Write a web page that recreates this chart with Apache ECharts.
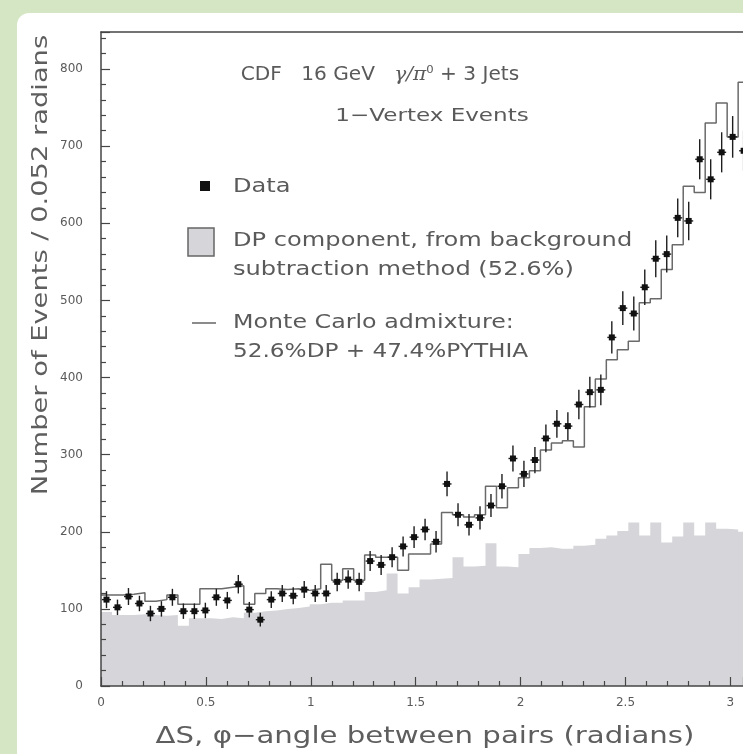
<!DOCTYPE html>
<html>
<head>
<meta charset="utf-8">
<script src="https://cdn.jsdelivr.net/npm/echarts@6/dist/echarts.min.js"></script>
<style>
  html, body { margin: 0; padding: 0; background: #d4e6c3; }
  #chart { width: 743px; height: 754px; }
</style>
</head>
<body>
<div id="chart"></div>
<script>
// 60 bins of width pi/60 (0.052 rad); the view ends at 3.06 rad, so bins 0..58 are listed
const BIN_WIDTH = Math.PI / 60;
const X_VIEW_MAX = 3.06;

// Observed events per bin
const dataCounts = [
  112, 102, 116, 107, 94, 100, 115, 97, 97, 98,
  115, 111, 132, 99, 86, 112, 120, 117, 125, 120,
  120, 135, 138, 135, 162, 157, 167, 181, 193, 203,
  187, 262, 222, 209, 218, 234, 259, 295, 275, 293,
  321, 340, 337, 365, 381, 384, 452, 490, 483, 517,
  554, 560, 607, 603, 683, 657, 692, 712, 694
];
// Statistical uncertainty per bin
const dataErrors = [
  11, 10, 11, 10, 10, 10, 11, 10, 10, 10,
  11, 11, 12, 10, 9, 11, 11, 11, 11, 11,
  11, 12, 12, 12, 13, 13, 13, 13, 14, 14,
  14, 16, 15, 14, 15, 15, 16, 17, 17, 17,
  18, 18, 18, 19, 20, 20, 21, 22, 22, 23,
  24, 24, 25, 25, 26, 26, 26, 27, 26
];
// Monte Carlo admixture (52.6% DP + 47.4% PYTHIA)
const mcCounts = [
  118, 118, 119, 121, 110, 112, 118, 106, 106, 126,
  126, 128, 130, 106, 120, 126, 125, 126, 124, 126,
  158, 137, 152, 137, 170, 167, 167, 150, 171, 171,
  184, 225, 222, 219, 222, 259, 231, 257, 270, 279,
  306, 315, 318, 310, 362, 398, 423, 436, 447, 497,
  502, 540, 572, 648, 640, 730, 756, 712, 783
];
// DP component from background subtraction
const dpCounts = [
  96, 92, 92, 93, 92, 91, 92, 78, 88, 88,
  87, 89, 88, 95, 97, 98, 100, 101, 103, 106,
  108, 108, 111, 111, 122, 124, 146, 120, 128, 138,
  139, 140, 167, 155, 156, 185, 155, 154, 171, 179,
  180, 178, 178, 182, 183, 191, 195, 201, 212, 195,
  212, 186, 194, 212, 195, 212, 204, 203, 200
];

const xTickLabels = ['0', '0.5', '1', '1.5', '2', '2.5', '3'];
const yTickLabels = ['0', '100', '200', '300', '400', '500', '600', '700', '800'];

const TEXT_FONT = '"DejaVu Sans", sans-serif';
const TEXT_COLOR = '#5a5a5a';
const AXIS_COLOR = '#454545';

// Step outline: one point at each bin's left edge, closed at the last right edge
function stepPoints(values) {
  const pts = values.map((v, i) => [i * BIN_WIDTH, v]);
  pts.push([values.length * BIN_WIDTH, values[values.length - 1]]);
  return pts;
}
const dataPoints = dataCounts.map((v, i) => [(i + 0.5) * BIN_WIDTH, v, dataErrors[i]]);

// Tick label lookup: only exact steps get a label
function tickLabel(list, step) {
  return v => {
    const k = Math.round(v / step);
    return Math.abs(v - k * step) < 1e-6 && list[k] !== undefined ? list[k] : '';
  };
}

// Wide-set annotation text (the plot's lettering is an extended face)
function label(text, x, y, size, stretch, align) {
  return {
    type: 'text', z: 50, x: x, y: y, scaleX: stretch,
    style: { text: text, font: size + 'px ' + TEXT_FONT, fill: TEXT_COLOR,
             align: align || 'left', verticalAlign: 'middle' }
  };
}

const chart = echarts.init(document.getElementById('chart'), null, { renderer: 'canvas' });

chart.setOption({
  animation: false,
  backgroundColor: 'transparent',
  grid: { left: 101, top: 32, right: 0, bottom: 68, show: false },
  xAxis: [
    {
      type: 'value', min: 0, max: X_VIEW_MAX, interval: 0.5, z: 5,
      axisLine: { lineStyle: { color: AXIS_COLOR, width: 1.5 } },
      axisTick: { inside: true, length: 9, lineStyle: { color: AXIS_COLOR, width: 1.2 } },
      minorTick: { show: true, splitNumber: 5, length: 5, lineStyle: { color: AXIS_COLOR, width: 1.2 } },
      splitLine: { show: false },
      axisLabel: {
        margin: 11, showMaxLabel: false, color: '#5a5a5a', fontSize: 12, fontFamily: TEXT_FONT,
        formatter: tickLabel(xTickLabels, 0.5)
      }
    },
    {
      // upper frame edge
      type: 'value', position: 'top', min: 0, max: X_VIEW_MAX, z: 5,
      axisLine: { show: true, lineStyle: { color: AXIS_COLOR, width: 1.5 } },
      axisTick: { show: false }, axisLabel: { show: false }, splitLine: { show: false }
    }
  ],
  yAxis: {
    type: 'value', min: 0, max: 848, interval: 100, z: 5,
    axisLine: { show: true, lineStyle: { color: AXIS_COLOR, width: 1.5 } },
    axisTick: { show: true, inside: true, length: 9, lineStyle: { color: AXIS_COLOR, width: 1.2 } },
    minorTick: { show: true, splitNumber: 5, length: 5, lineStyle: { color: AXIS_COLOR, width: 1.2 } },
    splitLine: { show: false },
    axisLabel: {
      margin: 18, showMaxLabel: false, color: '#5a5a5a', fontSize: 12, fontFamily: TEXT_FONT,
      formatter: tickLabel(yTickLabels, 100)
    }
  },
  series: [
    {
      name: 'DP component',
      type: 'line', step: 'end', symbol: 'none', z: 1,
      data: stepPoints(dpCounts),
      lineStyle: { width: 0 },
      areaStyle: { color: '#d6d6da', opacity: 1 }
    },
    {
      name: 'Monte Carlo',
      type: 'line', step: 'end', symbol: 'none', z: 2,
      data: stepPoints(mcCounts),
      lineStyle: { color: '#6a6a6a', width: 1.5 }
    },
    {
      name: 'Data',
      type: 'custom', z: 3, clip: true,
      data: dataPoints,
      renderItem(params, api) {
        const x = api.value(0), y = api.value(1), e = api.value(2);
        const c = api.coord([x, y]);
        const hi = api.coord([x, y + e]);
        const lo = api.coord([x, y - e]);
        const l = api.coord([x - BIN_WIDTH / 2, y]);
        const r = api.coord([x + BIN_WIDTH / 2, y]);
        const stroke = { stroke: '#1e1e1e', lineWidth: 1.4 };
        return {
          type: 'group',
          children: [
            { type: 'line', shape: { x1: c[0], y1: hi[1], x2: c[0], y2: lo[1] }, style: stroke },
            { type: 'line', shape: { x1: l[0] + 1, y1: c[1], x2: r[0] - 1, y2: c[1] }, style: stroke },
            { type: 'rect', shape: { x: c[0] - 3, y: c[1] - 3, width: 6, height: 6 }, style: { fill: '#111' } }
          ]
        };
      }
    }
  ],
  graphic: [
    // white page panel over the green surround
    { type: 'rect', z: -10, silent: true,
      shape: { x: 17, y: 13, width: 800, height: 800, r: 12 },
      style: { fill: '#ffffff' } },

    // plot annotations
    { type: 'text', z: 50, x: 380, y: 75, scaleX: 1.06,
      style: {
        text: 'CDF   16 GeV   {it|γ/π}{sup|0} + 3 Jets',
        font: '19px ' + TEXT_FONT, fill: TEXT_COLOR, align: 'center', verticalAlign: 'middle',
        rich: {
          it: { fontStyle: 'italic', fontSize: 19, fontFamily: 'DejaVu Serif', fill: TEXT_COLOR },
          sup: { fontSize: 11, fontFamily: 'DejaVu Sans', verticalAlign: 'top', padding: [0, 0, 10, 0], fill: TEXT_COLOR }
        }
      } },
    label('1\u2212Vertex Events', 432, 116, 18, 1.28, 'center'),

    // legend
    { type: 'rect', z: 50, shape: { x: 200, y: 181, width: 10, height: 10 }, style: { fill: '#111' } },
    label('Data', 233, 187, 19, 1.27),
    { type: 'rect', z: 50, shape: { x: 188, y: 228, width: 26, height: 28 },
      style: { fill: '#d6d6da', stroke: '#666', lineWidth: 1.5 } },
    label('DP component, from background', 233, 241, 19, 1.27),
    label('subtraction method (52.6%)', 233, 270, 19, 1.27),
    { type: 'line', z: 50, shape: { x1: 192, y1: 323, x2: 216, y2: 323 }, style: { stroke: '#666', lineWidth: 1.5 } },
    label('Monte Carlo admixture:', 233, 323, 19, 1.25),
    label('52.6%DP + 47.4%PYTHIA', 233, 352, 19, 1.22),

    // axis titles
    { type: 'text', z: 50, x: 42, y: 265, rotation: Math.PI / 2, scaleX: 1.3,
      style: { text: 'Number of Events / 0.052 radians', font: '21px ' + TEXT_FONT, fill: '#5e5e5e',
               align: 'center', verticalAlign: 'middle' } },
    { type: 'text', z: 50, x: 425, y: 737, scaleX: 1.27,
      style: { text: '\u0394S, \u03c6\u2212angle between pairs (radians)', font: '23px ' + TEXT_FONT, fill: '#5e5e5e',
               align: 'center', verticalAlign: 'middle' } }
  ]
});
</script>
</body>
</html>
